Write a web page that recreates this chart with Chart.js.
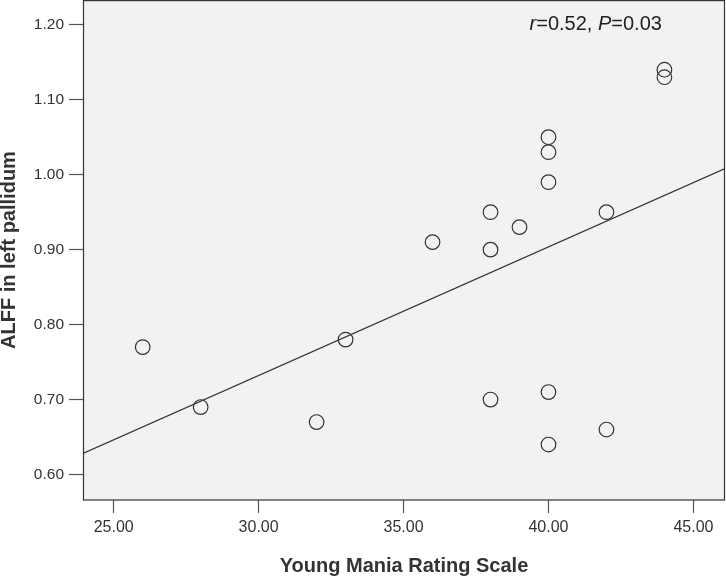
<!DOCTYPE html>
<html>
<head>
<meta charset="utf-8">
<script src="https://cdn.jsdelivr.net/npm/chart.js@4/dist/chart.umd.min.js"></script>
<style>
  html, body { margin: 0; padding: 0; background: #ffffff; }
  #wrap { width: 726px; height: 578px; position: relative; }
</style>
</head>
<body>
<div id="wrap"><canvas id="c" width="726" height="578"></canvas></div>
<script>
// ---- data ----
const ymrsScores = [26, 28, 32, 33, 36, 38, 38, 38, 39, 40, 40, 40, 40, 40, 42, 42, 44, 44];
const alffValues = [0.77, 0.69, 0.67, 0.78, 0.91, 0.95, 0.90, 0.70, 0.93, 1.05, 1.03, 0.99, 0.71, 0.64, 0.95, 0.66, 1.14, 1.13];
const fitLineX = [23.94, 46.09];
const fitLineY = [0.628, 1.008];
const xTickValues = [25, 30, 35, 40, 45];
const yTickValues = [0.60, 0.70, 0.80, 0.90, 1.00, 1.10, 1.20];
const xAxisTitle = 'Young Mania Rating Scale';
const yAxisTitle = 'ALFF in left pallidum';
const statText = { r: '0.52', p: '0.03', x: 41.63, y: 1.201 };

const scatterData = ymrsScores.map((x, i) => ({ x: x, y: alffValues[i] }));
const lineData = fitLineX.map((x, i) => ({ x: x, y: fitLineY[i] }));

const plotBg = {
  id: 'plotBg',
  beforeDraw(chart) {
    const { ctx, chartArea: a } = chart;
    ctx.save();
    ctx.fillStyle = '#f2f2f2';
    ctx.fillRect(a.left, a.top, a.right - a.left, a.bottom - a.top);
    ctx.restore();
  },
  afterDraw(chart) {
    const { ctx, chartArea: a, scales } = chart;
    ctx.save();
    ctx.strokeStyle = '#333333';
    ctx.lineWidth = 1.2;
    ctx.strokeRect(a.left + 0.5, a.top + 0.6, a.right - a.left - 1, a.bottom - a.top - 0.6);
    // annotation text
    const cx = scales.x.getPixelForValue(statText.x);
    const cy = scales.y.getPixelForValue(statText.y);
    const fam = '"Liberation Sans", Arial, sans-serif';
    const parts = [
      { t: 'r', f: 'italic 20px ' + fam },
      { t: '=' + statText.r + ', ', f: '20px ' + fam },
      { t: 'P', f: 'italic 20px ' + fam },
      { t: '=' + statText.p, f: '20px ' + fam }
    ];
    let total = 0;
    parts.forEach(p => { ctx.font = p.f; p.w = ctx.measureText(p.t).width; total += p.w; });
    let x = cx - total / 2;
    ctx.fillStyle = '#222222';
    ctx.textBaseline = 'middle';
    ctx.textAlign = 'left';
    parts.forEach(p => { ctx.font = p.f; ctx.fillText(p.t, x, cy); x += p.w; });
    ctx.restore();
  }
};

function zeroPad(s) {
  s.paddingTop = 0; s.paddingBottom = 0; s.paddingLeft = 0; s.paddingRight = 0;
}

new Chart(document.getElementById('c'), {
  type: 'scatter',
  data: {
    datasets: [
      {
        type: 'scatter',
        data: scatterData,
        pointStyle: 'circle',
        pointRadius: 7.3,
        pointHoverRadius: 7.3,
        backgroundColor: 'rgba(0,0,0,0)',
        borderColor: '#333333',
        borderWidth: 1.2
      },
      {
        type: 'line',
        data: lineData,
        borderColor: '#333333',
        borderWidth: 1.2,
        pointRadius: 0,
        fill: false,
        showLine: true
      }
    ]
  },
  plugins: [plotBg],
  options: {
    responsive: false,
    animation: false,
    devicePixelRatio: 1,
    layout: { autoPadding: false, padding: { top: 0, right: 1, left: 0, bottom: 0 } },
    plugins: { legend: { display: false }, tooltip: { enabled: false } },
    scales: {
      x: {
        type: 'linear',
        min: 23.94,
        max: 46.09,
        afterBuildTicks: s => { s.ticks = xTickValues.map(v => ({ value: v })); },
        afterFit: s => { s.height = 78; zeroPad(s); },
        grid: { drawOnChartArea: false, drawTicks: true, tickLength: 13, tickColor: '#555555', tickWidth: 1.2 },
        border: { display: false },
        ticks: {
          padding: 5,
          color: '#333333',
          font: { family: '"Liberation Sans", Arial, sans-serif', size: 16 },
          maxRotation: 0,
          callback: v => Number(v).toFixed(2)
        },
        title: {
          display: true,
          text: xAxisTitle,
          color: '#333333',
          font: { family: '"Liberation Sans", Arial, sans-serif', size: 20, weight: 'bold', lineHeight: 1.2 },
          padding: { top: 0, bottom: 0 }
        }
      },
      y: {
        type: 'linear',
        min: 0.566,
        max: 1.233,
        afterBuildTicks: s => { s.ticks = yTickValues.map(v => ({ value: v })); },
        afterFit: s => { s.width = 83; zeroPad(s); },
        grid: { drawOnChartArea: false, drawTicks: true, tickLength: 14, tickColor: '#555555', tickWidth: 1.2 },
        border: { display: false },
        ticks: {
          padding: 5,
          color: '#333333',
          font: { family: '"Liberation Sans", Arial, sans-serif', size: 15.5 },
          callback: v => Number(v).toFixed(2)
        },
        title: {
          display: true,
          text: yAxisTitle,
          color: '#333333',
          font: { family: '"Liberation Sans", Arial, sans-serif', size: 20, weight: 'bold', lineHeight: 0.95 },
          padding: { top: 0, bottom: 0 }
        }
      }
    }
  }
});
</script>
</body>
</html>
